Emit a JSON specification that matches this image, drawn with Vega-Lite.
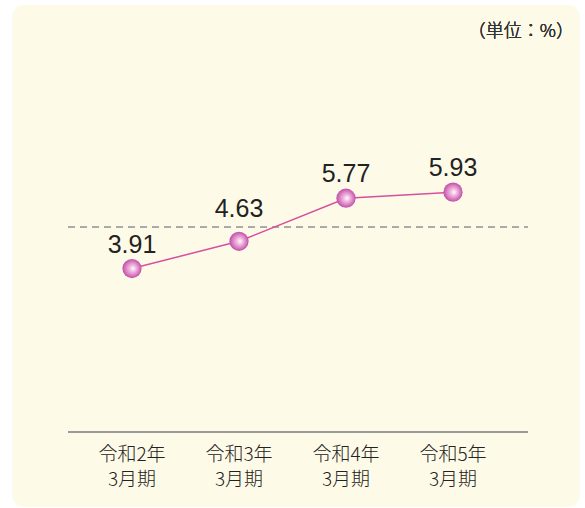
{
  "$schema": "https://vega.github.io/schema/vega-lite/v6.json",
  "autosize": "none",
  "width": 568,
  "height": 502,
  "padding": {"left": 12, "top": 5, "right": 5, "bottom": 1},
  "background": "#ffffff",
  "view": {"fill": "#fefae8", "stroke": null, "cornerRadius": 12},
  "config": {"font": "Liberation Sans"},
  "data": {
    "values": [
      {"i": 1, "period": "令和2年\n3月期", "value": 3.91},
      {"i": 2, "period": "令和3年\n3月期", "value": 4.63},
      {"i": 3, "period": "令和4年\n3月期", "value": 5.77},
      {"i": 4, "period": "令和5年\n3月期", "value": 5.93}
    ]
  },
  "encoding": {
    "x": {"field": "i", "type": "quantitative", "scale": {"domain": [-0.1215, 5.187]}, "axis": null},
    "y": {"field": "value", "type": "quantitative", "scale": {"domain": [-2.399, 10.881], "zero": false, "nice": false}, "axis": null}
  },
  "layer": [
    {
      "mark": {"type": "rule", "color": "#a8a8a8", "strokeWidth": 1.5, "strokeDash": [7, 5]},
      "encoding": {"x": {"datum": 0.402}, "x2": {"datum": 4.70}, "y": {"datum": 5.0}}
    },
    {
      "mark": {"type": "rule", "color": "#9a9a9a", "strokeWidth": 2},
      "encoding": {"x": {"datum": 0.402}, "x2": {"datum": 4.70}, "y": {"datum": -0.415}}
    },
    {
      "mark": {"type": "line", "color": "#d6509c", "strokeWidth": 1.5}
    },
    {
      "mark": {
        "type": "point",
        "filled": true,
        "size": 370,
        "opacity": 1,
        "fill": {
          "gradient": "radial",
          "x1": 0.56, "y1": 0.5, "x2": 0.5, "y2": 0.5,
          "r1": 0, "r2": 0.52,
          "stops": [
            {"offset": 0, "color": "#ffffff"},
            {"offset": 0.3, "color": "#f2bde2"},
            {"offset": 0.75, "color": "#d572bd"},
            {"offset": 1, "color": "#b9479b"}
          ]
        }
      }
    },
    {
      "transform": [{"filter": "datum.i != 2"}],
      "mark": {"type": "text", "fontSize": 25, "dy": -24, "color": "#222222", "baseline": "middle"},
      "encoding": {"text": {"field": "value", "type": "quantitative", "format": ".2f"}}
    },
    {
      "transform": [{"filter": "datum.i == 2"}],
      "mark": {"type": "text", "fontSize": 25, "dy": -32, "color": "#222222", "baseline": "middle"},
      "encoding": {"text": {"field": "value", "type": "quantitative", "format": ".2f"}}
    },
    {
      "mark": {"type": "text", "fontSize": 19, "fontWeight": 300, "lineBreak": "\n", "lineHeight": 25, "color": "#222222", "baseline": "middle", "font": "Noto Sans CJK JP"},
      "encoding": {"y": {"datum": -1.02}, "text": {"field": "period"}}
    },
    {
      "mark": {"type": "text", "fontSize": 18, "fontWeight": 300, "align": "right", "baseline": "middle", "color": "#333333", "font": "Noto Sans CJK JP"},
      "encoding": {"x": {"datum": 5.13}, "y": {"datum": 10.17}, "text": {"value": "（単位：%）"}}
    }
  ]
}
